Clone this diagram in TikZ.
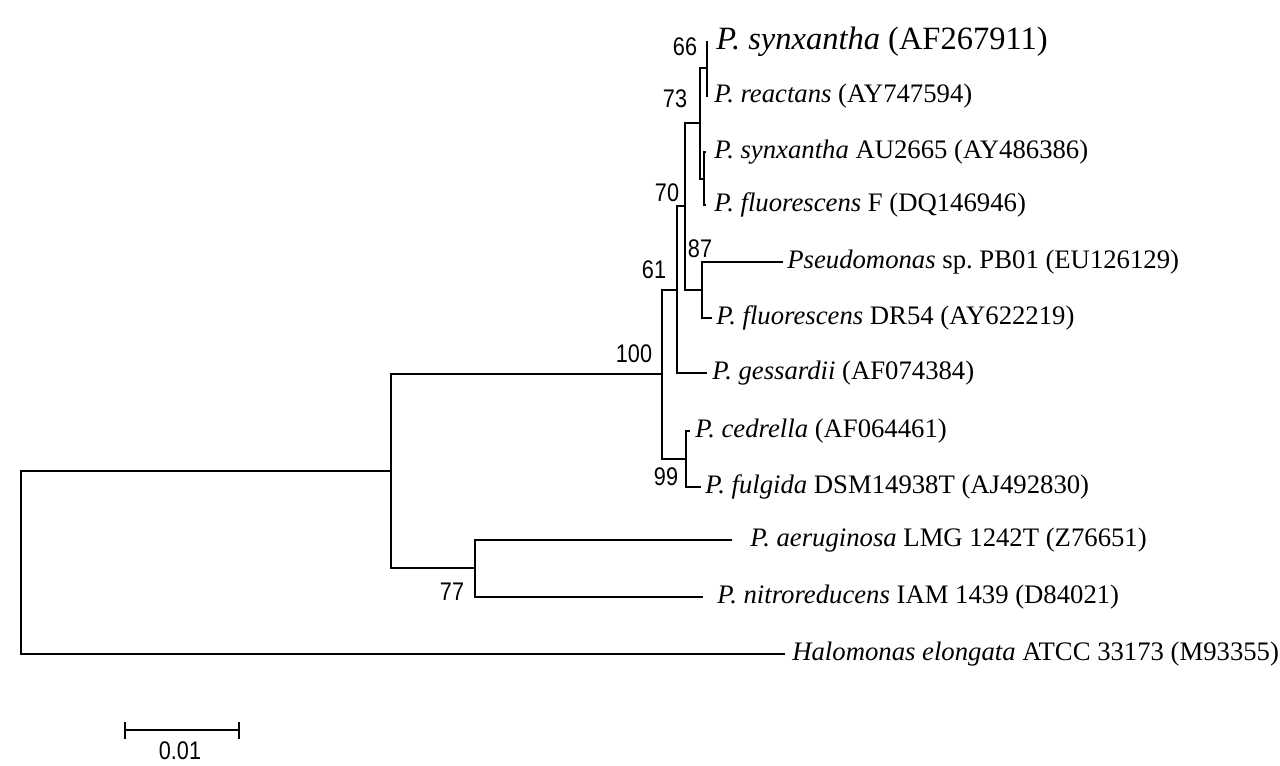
\documentclass[tikz,border=0pt]{standalone}
\usepackage{fontspec}
\setmainfont{Liberation Serif}
\newfontfamily\bootfont[FakeStretch=0.85]{Liberation Sans}
\begin{document}
\begin{tikzpicture}[
    x=0.02cm,
    y=-0.02cm,
    branch/.style={draw=black, line width=1.1pt},
    leaf/.style={anchor=west, inner sep=0pt, font=\fontsize{15.2}{17}\selectfont},
    bigleaf/.style={leaf, font=\fontsize{18.5}{20}\selectfont},
    boot/.style={inner sep=0pt, font=\bootfont\fontsize{14.5}{16}\selectfont}
]
\path[use as bounding box] (0,0) rectangle (1280,766);

% Internal nodes of the tree (pixel units, y downwards).
\foreach \n/\x/\y in {
    Root/21/562, Ingroup/391/471, 77/475/568, 100/662/374,
    99/686/459, 61/677/290, 70/685/206, 87/702/290,
    73/700/123, 66/707/68, F/704/179%
} {
    \coordinate (n\n) at (\x,\y);
}

% Branch tips.
\foreach \n/\x/\y in {
    1/708/42, 2/708/96, 3/706/152, 4/706/205, 5/783/262, 6/712/318,
    7/707/373, 8/690/431, 9/701/487, 10/732/540, 11/703/597, 12/785/654%
} {
    \coordinate (t\n) at (\x,\y);
}

% Parent / child pairs, drawn as elbows.
\foreach \a/\b in {
    nRoot/nIngroup, nRoot/t12, nIngroup/n100, nIngroup/n77,
    n77/t10, n77/t11, n100/n61, n100/n99, n99/t8, n99/t9,
    n61/n70, n61/t7, n70/n73, n70/n87, n87/t5, n87/t6,
    n73/n66, n73/nF, n66/t1, n66/t2, nF/t3, nF/t4%
} {
    \draw[branch] (\a) |- (\b);
}

% Taxon labels.
\node[bigleaf] (l1) at (716,42) {\textit{P. synxantha} (AF267911)};
\node[leaf] (l2) at (714,96) {\textit{P. reactans} (AY747594)};
\node[leaf] (l3) at (714,152) {\textit{P. synxantha} AU2665 (AY486386)};
\node[leaf] (l4) at (714,205) {\textit{P. fluorescens} F (DQ146946)};
\node[leaf] (l5) at (787,262) {\textit{Pseudomonas} sp.\ PB01 (EU126129)};
\node[leaf] (l6) at (716,318) {\textit{P. fluorescens} DR54 (AY622219)};
\node[leaf] (l7) at (712,373) {\textit{P. gessardii} (AF074384)};
\node[leaf] (l8) at (695,431) {\textit{P. cedrella} (AF064461)};
\node[leaf] (l9) at (705,487) {\textit{P. fulgida} DSM14938T (AJ492830)};
\node[leaf] (l10) at (750,540) {\textit{P. aeruginosa} LMG 1242T (Z76651)};
\node[leaf] (l11) at (717,597) {\textit{P. nitroreducens} IAM 1439 (D84021)};
\node[leaf] (l12) at (792,654) {\textit{Halomonas elongata} ATCC 33173 (M93355)};

% Bootstrap values.
\foreach \n/\x/\y in {
    66/685/47, 73/675/99, 70/667/193, 87/700/249,
    61/654/270, 100/634/354, 99/666/477, 77/452/592%
} {
    \node[boot] (b\n) at (\x,\y) {\n};
}

% Scale bar.
\coordinate (s0) at (125,730);
\coordinate (s1) at (239,730);
\draw[branch] (s0) -- (s1);
\draw[branch] ([yshift=4.5pt]s0) -- ([yshift=-5pt]s0);
\draw[branch] ([yshift=4.5pt]s1) -- ([yshift=-5pt]s1);
\node[boot] (sbar) at (180,751) {0.01};
\end{tikzpicture}
\end{document}
